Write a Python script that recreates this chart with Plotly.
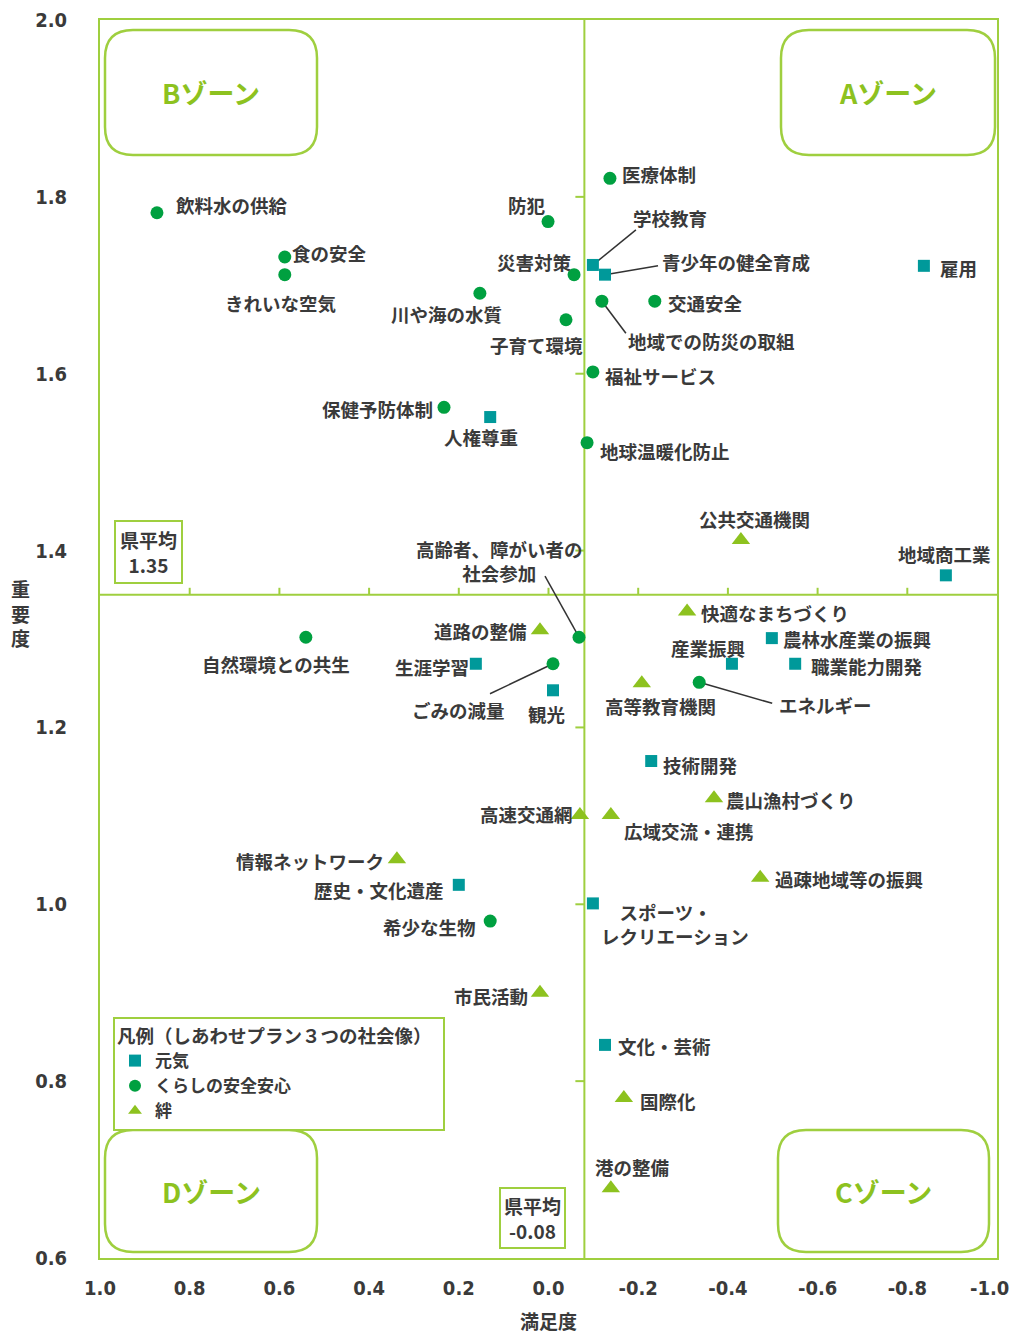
import plotly.graph_objects as go

# ---------------- data ----------------
genki_names = ["学校教育", "青少年の健全育成", "雇用", "人権尊重", "地域商工業", "農林水産業の振興",
               "職業能力開発", "産業振興", "生涯学習", "観光", "技術開発", "歴史・文化遺産",
               "　スポーツ・\nレクリエーション", "文化・芸術"]
genki_x = [-0.099, -0.126, -0.837, 0.130, -0.886, -0.498, -0.550, -0.409, 0.162, -0.010, -0.229, 0.200, -0.099, -0.126]
genki_y = [1.723, 1.712, 1.722, 1.551, 1.372, 1.301, 1.272, 1.272, 1.272, 1.242, 1.162, 1.022, 1.001, 0.841]

kurashi_names = ["飲料水の供給", "食の安全", "きれいな空気", "川や海の水質", "防犯", "災害対策", "子育て環境",
                 "医療体制", "交通安全", "地域での防災の取組", "福祉サービス", "地球温暖化防止", "保健予防体制",
                 "高齢者、障がい者の\n社会参加", "自然環境との共生", "ごみの減量", "エネルギー", "希少な生物"]
kurashi_x = [0.873, 0.588, 0.588, 0.153, 0.001, -0.057, -0.039, -0.137, -0.237, -0.119, -0.099, -0.086, 0.233,
             -0.068, 0.541, -0.010, -0.336, 0.130]
kurashi_y = [1.782, 1.732, 1.712, 1.691, 1.772, 1.712, 1.661, 1.821, 1.682, 1.682, 1.602, 1.522, 1.562,
             1.302, 1.302, 1.272, 1.251, 0.981]

kizuna_names = ["公共交通機関", "快適なまちづくり", "道路の整備", "高等教育機関", "農山漁村づくり", "高速交通網",
                "広域交流・連携", "情報ネットワーク", "過疎地域等の振興", "市民活動", "国際化", "港の整備"]
kizuna_x = [-0.429, -0.309, 0.019, -0.208, -0.369, -0.070, -0.139, 0.338, -0.472, 0.019, -0.168, -0.139]
kizuna_y = [1.412, 1.331, 1.310, 1.250, 1.120, 1.101, 1.101, 1.051, 1.030, 0.900, 0.781, 0.679]

series_names = ["元気", "くらしの安全安心", "絆"]
avg_x = -0.08
avg_y = 1.35
avg_x_text = "-0.08"
avg_y_text = "1.35"

x_tickvals = [1.0, 0.8, 0.6, 0.4, 0.2, 0.0, -0.2, -0.4, -0.6, -0.8, -1.0]
x_ticktext = ["1.0", "0.8", "0.6", "0.4", "0.2", "0.0", "-0.2", "-0.4", "-0.6", "-0.8", "-1.0"]
y_tickvals = [2.0, 1.8, 1.6, 1.4, 1.2, 1.0, 0.8, 0.6]
y_ticktext = ["2.0", "1.8", "1.6", "1.4", "1.2", "1.0", "0.8", "0.6"]

# ---------------- label placement (anchor, x pixel shift, y pixel shift up) ----------------
label_pos = {
    "飲料水の供給": ("left", 17, 8), "食の安全": ("left", 5, 4), "きれいな空気": ("center", -4, -28),
    "川や海の水質": ("center", -33, -21), "防犯": ("right", 0, 17), "災害対策": ("right", 0, 13),
    "子育て環境": ("right", 19, -25), "医療体制": ("left", 10, 4), "交通安全": ("left", 11, -2),
    "地域での防災の取組": ("left", 24, -40), "福祉サービス": ("left", 10, -4), "地球温暖化防止": ("left", 11, -8),
    "保健予防体制": ("right", -9, -2), "高齢者、障がい者の\n社会参加": ("right", 6, 76),
    "自然環境との共生": ("center", -30, -27), "ごみの減量": ("right", -46, -46), "エネルギー": ("left", 78, -23),
    "希少な生物": ("right", -12, -6),
    "学校教育": ("left", 38, 47), "青少年の健全育成": ("left", 55, 13), "雇用": ("left", 14, -2),
    "人権尊重": ("center", -9, -20), "地域商工業": ("right", 47, 21), "農林水産業の振興": ("left", 9, -1),
    "職業能力開発": ("left", 14, -2), "産業振興": ("center", -24, 16), "生涯学習": ("right", -5, -3),
    "観光": ("center", -6, -24), "技術開発": ("left", 10, -4), "歴史・文化遺産": ("right", -13, -5),
    "　スポーツ・\nレクリエーション": ("left", 6, -21), "文化・芸術": ("left", 11, -1),
    "公共交通機関": ("center", 14, 21), "快適なまちづくり": ("left", 12, -1), "道路の整備": ("right", -11, -1),
    "高等教育機関": ("center", 19, -23), "農山漁村づくり": ("left", 10, -2), "高速交通網": ("right", -5, 1),
    "広域交流・連携": ("left", 11, -16), "情報ネットワーク": ("right", -11, -2), "過疎地域等の振興": ("left", 13, -1),
    "市民活動": ("right", -10, -3), "国際化": ("left", 14, -3), "港の整備": ("center", 21, 21),
}
leaders = {
    "学校教育": (43, 35), "青少年の健全育成": (53, 9), "地域での防災の取組": (24, -32),
    "高齢者、障がい者の\n社会参加": (-34, 61), "ごみの減量": (-63, -30), "エネルギー": (73, -21),
}

# ---------------- styles ----------------
FRAME = "#9fcf3f"
TEAL = "#00999a"
GREEN = "#00a040"
LIME = "#8dc21f"
TXT = "#3a3a3a"
JP = "Noto Sans CJK JP"
NUM = "DejaVu Sans Condensed, DejaVu Sans"
LBL = 18.5

fig = go.Figure()
fig.add_trace(go.Scatter(x=genki_x, y=genki_y, mode="markers", name=series_names[0],
                         marker=dict(symbol="square", size=12, color=TEAL)))
fig.add_trace(go.Scatter(x=kurashi_x, y=kurashi_y, mode="markers", name=series_names[1],
                         marker=dict(symbol="circle", size=13, color=GREEN)))
fig.add_trace(go.Scatter(x=kizuna_x, y=kizuna_y, mode="markers", name=series_names[2],
                         marker=dict(symbol="triangle-up", size=16, color=LIME)))

annotations = []
shapes = []

for names, xs, ys in [(genki_names, genki_x, genki_y), (kurashi_names, kurashi_x, kurashi_y),
                      (kizuna_names, kizuna_x, kizuna_y)]:
    for n, xv, yv in zip(names, xs, ys):
        anc, dx, dy = label_pos[n]
        annotations.append(dict(x=xv, y=yv, xref="x", yref="y", text="<b>" + n.replace("\n", "<br>") + "</b>",
                                showarrow=False, xanchor=anc, yanchor="middle", xshift=dx, yshift=dy,
                                align="left" if n.startswith("　") else "center",
                                font=dict(family=JP, size=LBL, color=TXT)))
        if n in leaders:
            lx, ly = leaders[n]
            shapes.append(dict(type="line", xref="x", yref="y", xsizemode="pixel", ysizemode="pixel",
                               xanchor=xv, yanchor=yv, x0=0, x1=lx, y0=0, y1=ly,
                               line=dict(color="#333333", width=1.5), layer="below"))

# average cross lines
shapes.append(dict(type="line", xref="x", yref="paper", x0=avg_x, x1=avg_x, y0=0, y1=1,
                   line=dict(color=FRAME, width=2), layer="below"))
shapes.append(dict(type="line", xref="paper", yref="y", x0=0, x1=1, y0=avg_y, y1=avg_y,
                   line=dict(color=FRAME, width=2), layer="below"))
for tv in x_tickvals[1:-1]:
    shapes.append(dict(type="line", xref="x", yref="y", ysizemode="pixel", yanchor=avg_y,
                       x0=tv, x1=tv, y0=0, y1=7, line=dict(color=FRAME, width=2), layer="below"))
for tv in y_tickvals[1:-1]:
    shapes.append(dict(type="line", xref="x", yref="y", xsizemode="pixel", xanchor=avg_x,
                       x0=-9, x1=0, y0=tv, y1=tv, line=dict(color=FRAME, width=2), layer="below"))

# page body has an 8px margin; screen positions below are in window pixels
OFF = 8
SL, ST, W, H = 100, 20, 897, 1238          # plot area on screen
FW, FH = 1019 - OFF, 1334 - OFF            # figure size
L, T = SL - OFF, ST - OFF


def px(v):
    return (v - SL) / W


def py(v):
    return 1 - (v - ST) / H


def rrect(x0, y0, x1, y1, r):
    pts = [
        f"M {px(x0 + r)},{py(y0)}", f"L {px(x1 - r)},{py(y0)}", f"Q {px(x1)},{py(y0)} {px(x1)},{py(y0 + r)}",
        f"L {px(x1)},{py(y1 - r)}", f"Q {px(x1)},{py(y1)} {px(x1 - r)},{py(y1)}",
        f"L {px(x0 + r)},{py(y1)}", f"Q {px(x0)},{py(y1)} {px(x0)},{py(y1 - r)}",
        f"L {px(x0)},{py(y0 + r)}", f"Q {px(x0)},{py(y0)} {px(x0 + r)},{py(y0)}", "Z"]
    return " ".join(pts)


zones = [("Bゾーン", 105, 30, 317, 155), ("Aゾーン", 781, 30, 995, 155),
         ("Dゾーン", 105, 1130, 317, 1252), ("Cゾーン", 778, 1130, 989, 1252)]
for zt, x0, y0, x1, y1 in zones:
    shapes.append(dict(type="path", xref="paper", yref="paper", path=rrect(x0, y0, x1, y1, 28),
                       line=dict(color=FRAME, width=2.5), fillcolor="rgba(0,0,0,0)"))
    annotations.append(dict(x=px((x0 + x1) / 2), y=py((y0 + y1) / 2), xref="paper", yref="paper",
                            xanchor="center", yanchor="middle",
                            text="<b>" + zt + "</b>", showarrow=False,
                            font=dict(family=JP, size=27, color=LIME)))

# average value boxes
annotations.append(dict(x=1.0, y=avg_y, xref="x", yref="y", xanchor="left", yanchor="bottom",
                        xshift=14, yshift=11, text="<b>県平均<br>" + avg_y_text + "</b>", showarrow=False,
                        bordercolor=FRAME, borderwidth=2, borderpad=4, bgcolor="white",
                        font=dict(family=JP, size=19, color=TXT)))
annotations.append(dict(x=avg_x, y=0.6, xref="x", yref="y", xanchor="right", yanchor="bottom",
                        xshift=-18, yshift=9, text="<b>県平均<br>" + avg_x_text + "</b>", showarrow=False,
                        bordercolor=FRAME, borderwidth=2, borderpad=3, bgcolor="white",
                        font=dict(family=JP, size=19, color=TXT)))

# the last x tick label sits at the page edge: keep it inside by anchoring its right side
shown_ticktext = x_ticktext[:-1] + [""]
annotations.append(dict(x=x_tickvals[-1], y=0, xref="x", yref="paper", xanchor="right", yanchor="middle",
                        xshift=14, yshift=-30, showarrow=False, text=x_ticktext[-1],
                        font=dict(family=NUM, size=20, color=TXT, weight="bold")))

# axis titles
annotations.append(dict(x=px(20), y=py(613), xref="paper", yref="paper", showarrow=False,
                        xanchor="center", yanchor="middle",
                        text="<b>重<br>要<br>度</b>", font=dict(family=JP, size=19, color=TXT)))
annotations.append(dict(x=px(548), y=py(1320), xref="paper", yref="paper", showarrow=False,
                        xanchor="center", yanchor="middle",
                        text="<b>満足度</b>", font=dict(family=JP, size=19, color=TXT)))

fig.update_layout(
    width=FW, height=FH,
    margin=dict(l=L, r=FW - L - W, t=T, b=FH - T - H, autoexpand=False),
    paper_bgcolor="white", plot_bgcolor="white",
    showlegend=True,
    legend=dict(x=px(113), y=py(1017), xanchor="left", yanchor="top", xref="paper", yref="paper",
                bordercolor=FRAME, borderwidth=2, bgcolor="white",
                title=dict(text="<b>凡例（しあわせプラン３つの社会像）　</b>",
                           font=dict(family=JP, size=18.5, color=TXT)),
                font=dict(family=JP, size=17, color=TXT, weight="bold"), tracegroupgap=0,
                itemsizing="constant"),
    xaxis=dict(range=[1.0, -1.0], tickvals=x_tickvals, ticktext=shown_ticktext, showgrid=False, zeroline=False,
               showline=True, mirror=True, linecolor=FRAME, linewidth=2, ticks="", ticklabelstandoff=11,
               automargin=False, ticklabeloverflow="allow",
               tickfont=dict(family=NUM, size=20, color=TXT, weight="bold")),
    yaxis=dict(range=[0.6, 2.0], tickvals=y_tickvals, ticktext=y_ticktext, showgrid=False, zeroline=False,
               showline=True, mirror=True, linecolor=FRAME, linewidth=2, ticks="", ticklabelstandoff=27,
               automargin=False, ticklabeloverflow="allow",
               tickfont=dict(family=NUM, size=20, color=TXT, weight="bold")),
    annotations=annotations, shapes=shapes, hovermode=False,
)

fig.write_html("out.html")
